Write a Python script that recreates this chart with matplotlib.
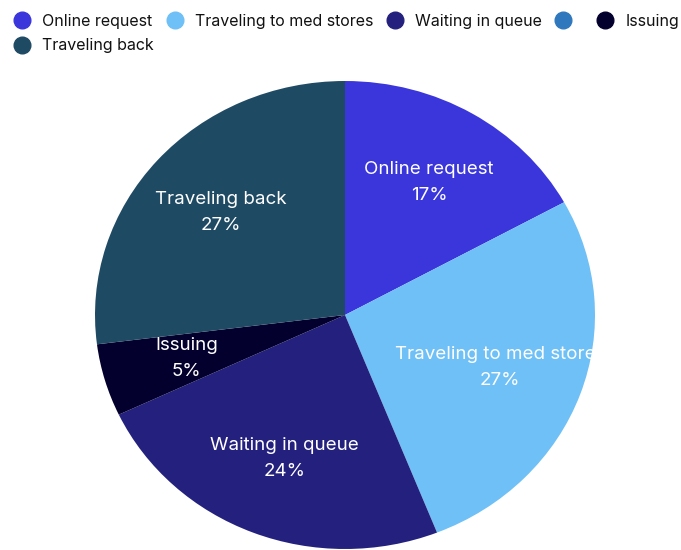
import matplotlib
matplotlib.use("Agg")
import matplotlib.pyplot as plt
from matplotlib.lines import Line2D

plt.rcParams["font.family"] = ["Inter", "DejaVu Sans"]

# slices, clockwise from 12 o'clock
stages = ["Online request", "Traveling to med stores", "Waiting in queue",
          "Issuing", "Traveling back"]
shares = [17, 27, 24, 5, 27]
colors = ["#3a36dc", "#6ec0f6", "#24217e", "#03002e", "#1f4a64"]

# legend has one extra unlabeled entry (no slice)
legend_labels = ["Online request", "Traveling to med stores", "Waiting in queue",
                 "", "Issuing", "Traveling back"]
legend_colors = ["#3a36dc", "#6ec0f6", "#24217e", "#2f78bd", "#03002e", "#1f4a64"]

W, H = 681, 550
fig = plt.figure(figsize=(W / 100, H / 100), dpi=100)
# pie box is slightly squashed in the reference (500 x 468 px)
ax = fig.add_axes([95 / W, 1 / H, 500 / W, 468 / H])

it = iter(stages)
wedges, texts, autotexts = ax.pie(
    shares, colors=colors, startangle=90, counterclock=False,
    autopct=lambda p: f"{next(it)}\n{p:.0f}%", pctdistance=0.66,
    wedgeprops=dict(linewidth=0),
    textprops=dict(color="white", fontsize=13.5, linespacing=1.7),
)
for t in autotexts:
    t.set_clip_on(True)
ax.set_aspect("auto")
ax.set_xlim(-1, 1)
ax.set_ylim(-1, 1)

handles = [Line2D([0], [0], marker="o", ls="none", ms=12, mfc=c, mec=c)
           for c in legend_colors]
# legend fills column-major: put "Traveling back" under "Online request"
order = [0, 5, 1, 2, 3, 4]
fig.legend([handles[i] for i in order], [legend_labels[i] for i in order],
           ncol=5, loc="upper left", bbox_to_anchor=(0.0, 1.0), frameon=False,
           fontsize=11.5, handlelength=1.0, handletextpad=0.8, columnspacing=0.8,
           borderaxespad=0.3, borderpad=0.55, labelspacing=0.6,
           labelcolor="#111111")

fig.savefig("out.png", dpi=100, facecolor="white")
